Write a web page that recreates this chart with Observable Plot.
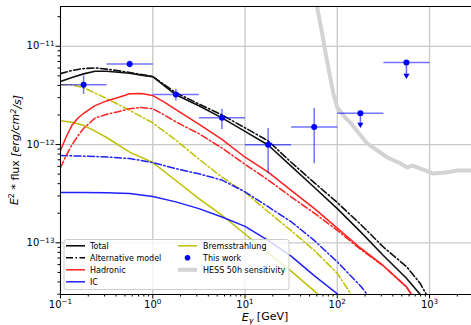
<!DOCTYPE html>
<html>
<head>
<meta charset="utf-8">
<script src="https://cdn.jsdelivr.net/npm/d3@7"></script>
<script src="https://cdn.jsdelivr.net/npm/@observablehq/plot@0.6"></script>
<style>
  html, body { margin: 0; padding: 0; background: white; }
  svg { display: block; }
</style>
</head>
<body>
<script>
// ---------- data (E in GeV, flux in erg/cm^2/s) ----------
const total = [[0.1,4.38e-12],[0.133,4.82e-12],[0.178,5.24e-12],[0.237,5.57e-12],[0.316,5.58e-12],[0.562,5.31e-12],[0.75,5.09e-12],[1,4.91e-12],[1.78,3.21e-12],[3.16,2.48e-12],[5.62,1.87e-12],[10,1.36e-12],[17.8,9.89e-13],[31.6,6.03e-13],[56.2,3.68e-13],[100,2.23e-13],[178,1.30e-13],[316,7.43e-14],[562,4.36e-14],[794,2.98e-14],[850,2.5e-14]];
const totalAlt = [[0.1,5.27e-12],[0.133,5.68e-12],[0.178,5.93e-12],[0.237,6.03e-12],[0.316,5.86e-12],[0.562,5.42e-12],[1,4.91e-12],[1.78,3.37e-12],[3.16,2.59e-12],[5.62,2.00e-12],[10,1.48e-12],[17.8,1.09e-12],[31.6,6.61e-13],[56.2,4.10e-13],[100,2.57e-13],[178,1.55e-13],[316,9.06e-14],[562,5.74e-14],[794,3.85e-14],[925,2.98e-14],[960,2.5e-14]];
const hadronic = [[0.1,8.69e-13],[0.1154,1.20e-12],[0.133,1.57e-12],[0.154,1.85e-12],[0.178,2.08e-12],[0.237,2.49e-12],[0.316,2.78e-12],[0.422,3.01e-12],[0.562,3.29e-12],[0.75,3.31e-12],[1,3.15e-12],[1.334,2.70e-12],[1.78,2.27e-12],[3.16,1.61e-12],[5.62,1.13e-12],[10,7.43e-13],[17.8,5.25e-13],[31.6,3.42e-13],[56.2,2.24e-13],[100,1.41e-13],[178,8.87e-14],[316,5.85e-14],[562,3.56e-14],[637,2.98e-14],[721,2.47e-14]];
const hadronicAlt = [[0.1,5.83e-13],[0.1154,7.73e-13],[0.133,9.93e-13],[0.154,1.22e-12],[0.178,1.46e-12],[0.237,1.86e-12],[0.316,2.03e-12],[0.422,2.16e-12],[0.562,2.32e-12],[0.75,2.38e-12],[1,2.32e-12],[1.334,2.00e-12],[1.78,1.70e-12],[3.16,1.29e-12],[5.62,9.23e-13],[10,6.29e-13],[17.8,4.36e-13],[31.6,2.94e-13],[56.2,2.01e-13],[100,1.34e-13],[178,8.61e-14],[316,5.82e-14],[562,3.56e-14],[637,2.98e-14],[721,2.47e-14]];
const ic = [[0.1,3.25e-13],[0.178,3.25e-13],[0.316,3.24e-13],[0.562,3.18e-13],[1,2.96e-13],[1.78,2.61e-13],[3.16,2.23e-13],[5.62,1.83e-13],[10,1.47e-13],[17.8,1.06e-13],[31.6,7.32e-14],[56.2,4.63e-14],[100,3.03e-14],[108,2.84e-14]];
const icAlt = [[0.1,7.73e-13],[0.178,7.62e-13],[0.316,7.48e-13],[0.562,7.21e-13],[1,6.56e-13],[1.78,5.69e-13],[3.16,5.04e-13],[5.62,4.35e-13],[10,3.30e-13],[17.8,2.33e-13],[31.6,1.64e-13],[56.2,1.06e-13],[100,6.40e-14],[178,3.65e-14],[212,2.98e-14],[229,2.67e-14]];
const brems = [[0.1,1.75e-12],[0.133,1.69e-12],[0.178,1.57e-12],[0.237,1.37e-12],[0.316,1.18e-12],[0.562,8.37e-13],[1,6.56e-13],[1.78,4.31e-13],[3.16,2.82e-13],[5.62,1.91e-13],[10,1.23e-13],[17.8,7.85e-14],[31.6,5.15e-14],[56.2,3.24e-14],[62.4,2.98e-14],[67.3,2.74e-14]];
const bremsAlt = [[0.1,4.07e-12],[0.133,4.07e-12],[0.178,3.78e-12],[0.237,3.34e-12],[0.316,2.94e-12],[0.562,2.23e-12],[1,1.66e-12],[1.78,1.11e-12],[3.16,7.12e-13],[5.62,4.67e-13],[10,3.27e-13],[17.8,2.07e-13],[31.6,1.33e-13],[56.2,8.38e-14],[100,4.89e-14],[139,3.08e-14],[146,2.74e-14]];
const hess = [[58.6,2.92e-11],[60.4,2.54e-11],[68.4,1.35e-11],[80,6.07e-12],[90.7,3.31e-12],[100,2.38e-12],[122,1.88e-12],[139,1.67e-12],[212,1.02e-12],[350,7.38e-13],[484,6.41e-13],[576,5.85e-13],[653,6.11e-13],[797,5.70e-13],[1102,5.07e-13],[1489,5.19e-13],[2010,5.44e-13],[2853,5.44e-13]];

// "This work" data points
const ptE   = [0.178, 0.562, 1.78, 5.62, 17.8, 56.2, 178, 562];
const ptElo = [0.1, 0.316, 1, 3.16, 10, 31.6, 100, 316];
const ptEhi = [0.316, 1, 3.16, 10, 31.6, 100, 316, 1000];
const ptF   = [4.07e-12, 6.59e-12, 3.23e-12, 1.87e-12, 9.93e-13, 1.51e-12, 2.08e-12, 6.83e-12];
const ptFlo = [3.28e-12, 6.11e-12, 2.81e-12, 1.44e-12, 5.1e-13, 6.46e-13, null, null];
const ptFhi = [5.04e-12, 7.15e-12, 3.69e-12, 2.31e-12, 1.47e-12, 2.36e-12, null, null];
const ptUL  = [null, null, null, null, null, null, 1.60e-12, 5.04e-12];

// axes
const xDomain = [0.1, 2850];
const yDomain = [2.98e-14, 2.54e-11];
const xMajor = [0.1, 1, 10, 100, 1000];
const xTickLabels = ["10^−1", "10^0", "10^1", "10^2", "10^3"];
const yMajor = [1e-13, 1e-12, 1e-11];
const yTickLabels = ["10^−13", "10^−12", "10^−11"];

const legendLeft = [
  {label: "Total", color: "black", dash: null},
  {label: "Alternative model", color: "black", dash: "7,2.5,1.5,2.5"},
  {label: "Hadronic", color: "#ff2020", dash: null},
  {label: "IC", color: "#2020ff", dash: null}
];
const legendRight = [
  {label: "Bremsstrahlung", kind: "line", color: "#bfbf00"},
  {label: "This work", kind: "dot", color: "#0000ff"},
  {label: "HESS 50h sensitivity", kind: "thick", color: "#d3d3d3"}
];

// ---------- build ----------
function minorTicks(lo, hi) {
  const out = [];
  for (let e = Math.floor(Math.log10(lo)); e <= Math.ceil(Math.log10(hi)); e++) {
    for (let m = 2; m <= 9; m++) {
      const v = m * Math.pow(10, e);
      if (v >= lo && v <= hi) out.push(v);
    }
  }
  return out;
}
const xMinor = minorTicks(xDomain[0], xDomain[1]);
const yMinor = minorTicks(yDomain[0], yDomain[1]);

const DASHDOT = "7,2.5,1.5,2.5";
const line = (data, stroke, dash, extra = {}) => Plot.line(data, {
  x: d => d[0], y: d => d[1], stroke, strokeWidth: 1.5,
  strokeDasharray: dash || undefined, clip: true, ...extra
});

const pts = ptE.map((e, i) => ({e, lo: ptElo[i], hi: ptEhi[i], f: ptF[i], flo: ptFlo[i], fhi: ptFhi[i], ul: ptUL[i]}));
const ptsErr = pts.filter(d => d.flo != null);
const ptsUL = pts.filter(d => d.ul != null);

const svg = Plot.plot({
  width: 471,
  height: 325,
  marginLeft: 60,
  marginRight: 0,
  marginTop: 6,
  marginBottom: 31,
  style: {fontFamily: "DejaVu Sans, sans-serif", fontSize: "10px", background: "white", color: "black"},
  x: {type: "log", domain: xDomain},
  y: {type: "log", domain: yDomain},
  marks: [
    Plot.gridX(xMajor, {stroke: "#c8c8c8", strokeOpacity: 1, strokeWidth: 1.3}),
    Plot.gridY(yMajor, {stroke: "#c8c8c8", strokeOpacity: 1, strokeWidth: 1.3}),
    line(hess, "#d3d3d3", null, {strokeWidth: 4}),
    line(brems, "#bfbf00", null),
    line(bremsAlt, "#bfbf00", DASHDOT),
    line(ic, "#2020ff", null),
    line(icAlt, "#2020ff", DASHDOT),
    line(hadronic, "#ff2020", null),
    line(hadronicAlt, "#ff2020", DASHDOT),
    line(total, "#111", null, {strokeWidth: 1.6}),
    line(totalAlt, "#111", DASHDOT, {strokeWidth: 1.6}),
    Plot.link(pts, {x1: "lo", x2: "hi", y1: "f", y2: "f", stroke: "#0000ff", strokeOpacity: 0.55, strokeWidth: 1.5}),
    Plot.link(ptsErr, {x1: "e", x2: "e", y1: "flo", y2: "fhi", stroke: "#0000ff", strokeOpacity: 0.55, strokeWidth: 1.5}),
    Plot.link(ptsUL, {x1: "e", x2: "e", y1: "f", y2: "ul", stroke: "#0000ff", strokeOpacity: 0.6, strokeWidth: 1.5}),
    Plot.dot(ptsUL, {x: "e", y: "ul", symbol: "triangle", r: 2.3, fill: "#0000ff", rotate: 180}),
    Plot.dot(pts, {x: "e", y: "f", r: 3, fill: "#0000ff"}),
    Plot.ruleX([xDomain[0]], {stroke: "black", strokeWidth: 1}),
    Plot.ruleY(yDomain, {stroke: "black", strokeWidth: 1}),
    Plot.axisX(xMajor, {tickSize: 4.5, tickPadding: 1.5, fontSize: 10, tickFormat: (d, i) => xTickLabels[xMajor.indexOf(d)]}),
    Plot.axisX(xMinor, {tickSize: 2.5, tickFormat: () => ""}),
    Plot.axisY(yMajor, {tickSize: 4.5, tickPadding: 1.5, fontSize: 10, tickFormat: d => yTickLabels[yMajor.indexOf(d)]}),
    Plot.axisY(yMinor, {tickSize: 2.5, tickFormat: () => ""})
  ]
});
document.body.appendChild(svg);

const root = d3.select(svg);

// superscript tick labels
root.selectAll('g[aria-label$="tick label"] text').each(function () {
  const s = this.textContent;
  const m = s.match(/^10\^(.+)$/);
  if (!m) return;
  const t = d3.select(this);
  t.text(null);
  t.append("tspan").text("10");
  t.append("tspan").attr("dy", "-0.45em").attr("font-size", "72%").text(m[1]);
});

// axis labels
const xl = root.append("text")
  .attr("x", 265).attr("y", 321)
  .attr("text-anchor", "middle")
  .attr("font-family", "DejaVu Sans, sans-serif").attr("font-size", 11);
xl.append("tspan").attr("font-style", "italic").text("E");
xl.append("tspan").attr("font-style", "italic").attr("font-size", "72%").attr("dy", "0.25em").text("γ");
xl.append("tspan").attr("dy", "-0.25em").text(" [GeV]");

const yl = root.append("text")
  .attr("transform", "translate(18,150) rotate(-90)")
  .attr("text-anchor", "middle")
  .attr("font-family", "DejaVu Sans, sans-serif").attr("font-size", 11);
yl.append("tspan").attr("font-style", "italic").text("E");
yl.append("tspan").attr("font-size", "72%").attr("dy", "-0.45em").text("2");
yl.append("tspan").attr("dy", "0.45em").text(" * flux ");
yl.append("tspan").attr("font-style", "italic").text("[erg/cm");
yl.append("tspan").attr("font-size", "72%").attr("font-style", "italic").attr("dy", "-0.45em").text("2");
yl.append("tspan").attr("font-style", "italic").attr("dy", "0.45em").text("/s]");

// legend
const lg = root.append("g").attr("font-family", "DejaVu Sans, sans-serif").attr("font-size", 8).attr("text-anchor", "start");
lg.append("rect").attr("x", 64).attr("y", 239.5).attr("width", 225).attr("height", 50)
  .attr("rx", 2.5).attr("fill", "white").attr("fill-opacity", 0.8).attr("stroke", "#cccccc").attr("stroke-width", 1);
legendLeft.forEach((d, i) => {
  const y = 245.8 + 12 * i;
  lg.append("line").attr("x1", 66).attr("x2", 85).attr("y1", y).attr("y2", y)
    .attr("stroke", d.color).attr("stroke-width", 1.5).attr("stroke-dasharray", d.dash);
  lg.append("text").attr("x", 90).attr("y", y).attr("dy", "0.35em").attr("text-anchor", "start").text(d.label);
});
legendRight.forEach((d, i) => {
  const y = 245.8 + 12 * i;
  if (d.kind === "dot") {
    lg.append("circle").attr("cx", 187.5).attr("cy", y).attr("r", 2.8).attr("fill", d.color);
  } else {
    lg.append("line").attr("x1", 178).attr("x2", 197).attr("y1", y).attr("y2", y)
      .attr("stroke", d.color).attr("stroke-width", d.kind === "thick" ? 4 : 1.5);
  }
  lg.append("text").attr("x", 203).attr("y", y).attr("dy", "0.35em").attr("text-anchor", "start").text(d.label);
});
</script>
</body>
</html>
